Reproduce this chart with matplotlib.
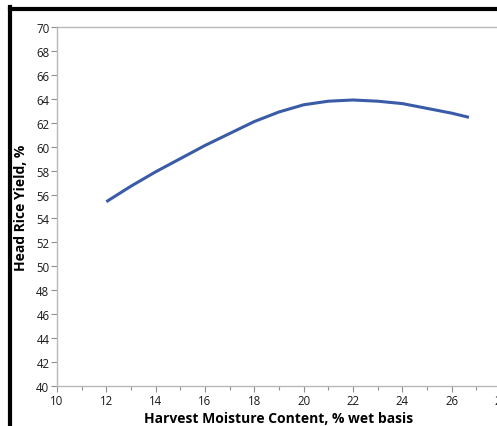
import matplotlib
matplotlib.use('Agg')
import matplotlib.pyplot as plt
from matplotlib.ticker import MultipleLocator
from matplotlib.lines import Line2D
import numpy as np

plt.rcParams['font.family'] = ['Open Sans', 'DejaVu Sans']

# data
moisture = [12, 13, 14, 15, 16, 17, 18, 19, 20, 21, 22, 23, 24, 25, 26, 26.7]
yield_pct = [55.4, 56.7, 57.9, 59.0, 60.1, 61.1, 62.1, 62.9, 63.5, 63.8, 63.9, 63.8, 63.6, 63.2, 62.8, 62.45]

x_ticks = list(range(10, 29, 2))
y_ticks = list(range(40, 71, 2))

fig = plt.figure(figsize=(4.97, 4.27), dpi=100)
ax = fig.add_axes([57 / 497, 1 - 387 / 427, 444 / 497, 359 / 427])

ax.plot(moisture, yield_pct, color='#3a5ba8', lw=2.2, solid_capstyle='butt',
        solid_joinstyle='round')

ax.set_xlim(10, 28)
ax.set_ylim(40, 70)
ax.set_xticks(x_ticks)
ax.set_yticks(y_ticks)
ax.xaxis.set_minor_locator(MultipleLocator(1))

for side in ['left', 'bottom', 'top', 'right']:
    ax.spines[side].set_color('#b8b8b8')
    ax.spines[side].set_linewidth(1.0)

ax.tick_params(axis='both', which='major', direction='out', length=4, width=0.8,
               color='#909090', labelsize=8.3, labelcolor='#1a1a1a', pad=1.5)
ax.tick_params(axis='x', which='minor', direction='out', length=3, width=0.8, color='#909090')

ax.set_xlabel('Harvest Moisture Content, % wet basis', fontsize=10, fontweight='bold', labelpad=3)
ax.set_ylabel('Head Rice Yield, %', fontsize=10, fontweight='bold', labelpad=5.5)

# black frame of the screenshot (left and top)
fig.add_artist(Line2D([9.5 / 497, 9.5 / 497], [0, 1 - 8 / 427], transform=fig.transFigure,
                      color='black', lw=3))
fig.add_artist(Line2D([9.5 / 497, 1], [1 - 9.5 / 427, 1 - 9.5 / 427], transform=fig.transFigure,
                      color='black', lw=3))

fig.savefig('out.png', dpi=100, facecolor='white')
